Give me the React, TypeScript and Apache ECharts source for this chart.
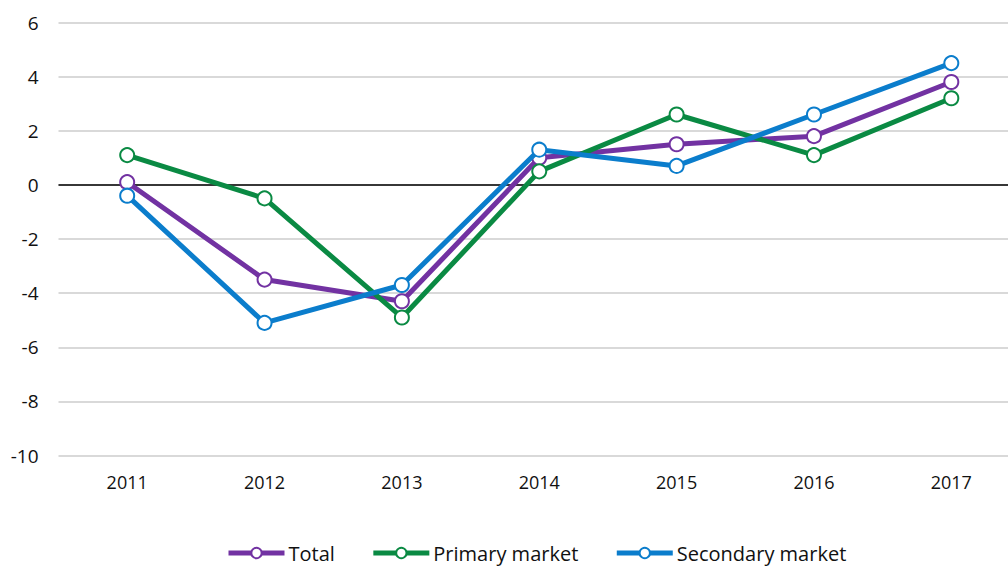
import React, { useEffect, useRef } from "react";
import * as echarts from "echarts";

const years = ["2011", "2012", "2013", "2014", "2015", "2016", "2017"];
const total = [0.1, -3.5, -4.3, 1.0, 1.5, 1.8, 3.8];
const primary = [1.1, -0.5, -4.9, 0.5, 2.6, 1.1, 3.2];
const secondary = [-0.4, -5.1, -3.7, 1.3, 0.7, 2.6, 4.5];

const seriesNames = ["Total", "Primary market", "Secondary market"];
const colors = ["#7232a2", "#0a8a43", "#0b7dcc"];

const FONT = "'Open Sans', 'Noto Sans', sans-serif";

export default function App() {
  const ref = useRef<HTMLDivElement>(null);
  useEffect(() => {
    if (!ref.current) return;
    const chart = echarts.init(ref.current, undefined, { renderer: "svg" });
    const datasets = [total, primary, secondary];
    chart.setOption({
      animation: false,
      backgroundColor: "#ffffff",
      textStyle: { fontFamily: FONT },
      grid: { left: 58.5, right: 0, top: 22.5, bottom: 114.5, containLabel: false },
      legend: {
        left: 226,
        top: 543,
        padding: 0,
        itemWidth: 56,
        itemHeight: 13,
        itemGap: 36,
        textStyle: { fontSize: 20, color: "#111111", fontFamily: FONT, padding: [0, 0, 0, -1] },
        lineStyle: { width: 5 },
        data: seriesNames,
      },
      xAxis: {
        type: "category",
        data: years,
        boundaryGap: true,
        axisLine: { show: false },
        axisTick: { show: false },
        axisLabel: { fontSize: 18, color: "#111111", margin: 17, fontFamily: FONT },
      },
      yAxis: {
        type: "value",
        min: -10,
        max: 6,
        interval: 2,
        axisLine: { show: false },
        axisTick: { show: false },
        axisLabel: { fontSize: 19, color: "#111111", margin: 20, fontFamily: FONT },
        splitLine: { lineStyle: { color: "#d9d9d9", width: 2 } },
      },
      series: seriesNames.map((name, i) => ({
        name,
        type: "line",
        data: datasets[i],
        color: colors[i],
        lineStyle: { width: 5, color: colors[i] },
        symbol: "circle",
        symbolSize: 14,
        itemStyle: { color: "#ffffff", borderColor: colors[i], borderWidth: 2 },
        z: 3 + i,
        markLine:
          i === 0
            ? {
                silent: true,
                symbol: "none",
                label: { show: false },
                lineStyle: { color: "#000000", width: 1.5, type: "solid" },
                data: [{ yAxis: 0 }],
                z: 1,
              }
            : undefined,
      })),
    });
    return () => chart.dispose();
  }, []);
  return (
    <div
      style={{ position: "absolute", left: 0, top: 0, width: 1008, height: 570, overflow: "hidden" }}
    >
      <div ref={ref} style={{ width: 1020, height: 570 }} />
    </div>
  );
}
